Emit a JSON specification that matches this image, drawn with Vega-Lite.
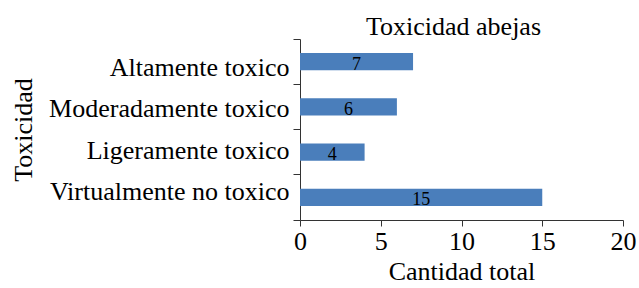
{
  "$schema": "https://vega.github.io/schema/vega-lite/v6.json",
  "width": 323,
  "height": 181,
  "autosize": {"type": "none"},
  "padding": {"left": 300, "top": 39, "right": 16, "bottom": 68},
  "config": {
    "view": {"stroke": null},
    "font": "Liberation Serif",
    "axis": {
      "labelFont": "Liberation Serif",
      "titleFont": "Liberation Serif",
      "labelColor": "#000",
      "titleColor": "#000",
      "domainColor": "#333333",
      "tickColor": "#333333",
      "labelFontSize": 26,
      "titleFontSize": 26,
      "titleFontWeight": "normal",
      "labelLimit": 0,
      "grid": false
    }
  },
  "title": {
    "text": "Toxicidad abejas",
    "font": "Liberation Serif",
    "fontSize": 26,
    "fontWeight": "normal",
    "color": "#000",
    "anchor": "middle",
    "frame": "group",
    "dx": -8,
    "dy": 28,
    "baseline": "bottom",
    "offset": 1
  },
  "data": {
    "values": [
      {"toxicidad": "Altamente toxico", "cantidad": 7},
      {"toxicidad": "Moderadamente toxico", "cantidad": 6},
      {"toxicidad": "Ligeramente toxico", "cantidad": 4},
      {"toxicidad": "Virtualmente no toxico", "cantidad": 15}
    ]
  },
  "layer": [
    {
      "mark": {"type": "bar", "height": {"band": 0.385}, "color": "#4a7ebb"},
      "encoding": {
        "y": {
          "field": "toxicidad",
          "type": "nominal",
          "sort": ["Altamente toxico", "Moderadamente toxico", "Ligeramente toxico", "Virtualmente no toxico"],
          "scale": {"paddingInner": 0, "paddingOuter": 0},
          "axis": {"labels": false, "title": null, "bandPosition": 1, "tickExtra": true, "tickSize": 7, "orient": "left"}
        },
        "x": {
          "field": "cantidad",
          "type": "quantitative",
          "scale": {"domain": [0, 20]},
          "axis": {"values": [0, 5, 10, 15, 20], "tickSize": 6, "labelFlush": false, "title": "Cantidad total", "labelPadding": 2, "titlePadding": 4}
        }
      }
    },
    {
      "mark": {"type": "text", "fontSize": 18, "font": "Liberation Serif", "color": "#000", "baseline": "middle", "dy": 3},
      "encoding": {
        "y": {
          "field": "toxicidad",
          "type": "nominal",
          "sort": ["Altamente toxico", "Moderadamente toxico", "Ligeramente toxico", "Virtualmente no toxico"],
          "scale": {"paddingInner": 0, "paddingOuter": 0},
          "axis": null
        },
        "x": {"field": "cantidad", "type": "quantitative", "scale": {"domain": [0, 40]}, "axis": null},
        "text": {"field": "cantidad"}
      }
    },
    {
      "mark": {"type": "point", "opacity": 0},
      "encoding": {
        "y": {
          "field": "toxicidad",
          "type": "nominal",
          "sort": ["Altamente toxico", "Moderadamente toxico", "Ligeramente toxico", "Virtualmente no toxico"],
          "scale": {"type": "point", "padding": 0.707},
          "axis": {"orient": "left", "ticks": false, "domain": false, "labelPadding": 11, "title": "Toxicidad", "titleX": -264, "titleY": 90.5, "titleAngle": -90, "titleAlign": "center", "titleBaseline": "bottom"}
        },
        "x": {"field": "cantidad", "type": "quantitative", "scale": {"domain": [0, 20]}, "axis": null}
      }
    }
  ],
  "resolve": {
    "scale": {"x": "independent", "y": "independent"},
    "axis": {"x": "independent", "y": "independent"}
  }
}
